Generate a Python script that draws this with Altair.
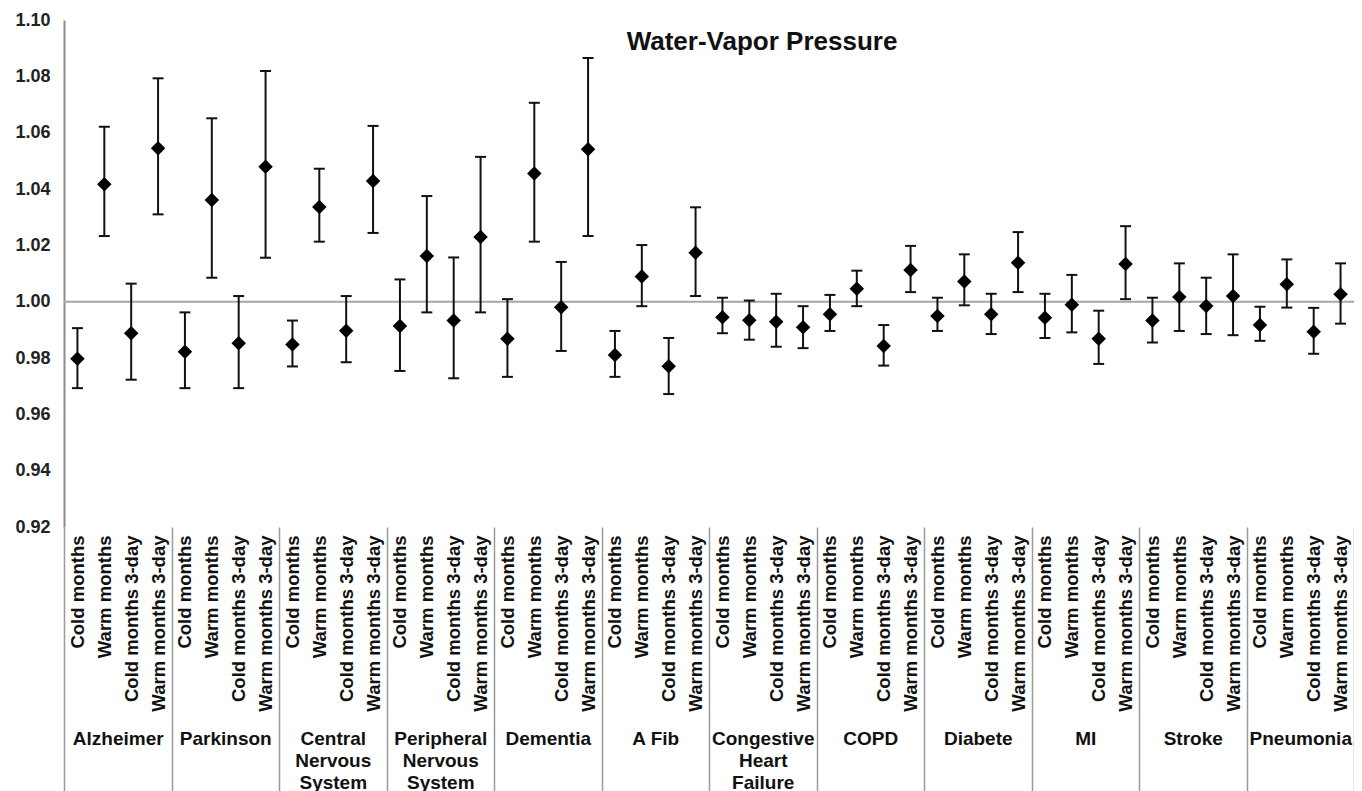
import json
import altair as alt
import pandas as pd

# ---- data ----
groups = ["Alzheimer", "Parkinson", "Central Nervous System", "Peripheral Nervous System",
          "Dementia", "A Fib", "Congestive Heart Failure", "COPD", "Diabete", "MI",
          "Stroke", "Pneumonia"]
group_lines = [["Alzheimer"], ["Parkinson"], ["Central", "Nervous", "System"],
               ["Peripheral", "Nervous", "System"], ["Dementia"], ["A Fib"],
               ["Congestive", "Heart", "Failure"], ["COPD"], ["Diabete"], ["MI"],
               ["Stroke"], ["Pneumonia"]]
periods = ["Cold months", "Warm months", "Cold months 3-day", "Warm months 3-day"]

estimate = [
    0.9797, 1.0417, 0.9888, 1.0545,   # Alzheimer
    0.9822, 1.0361, 0.9852, 1.0479,   # Parkinson
    0.9848, 1.0336, 0.9897, 1.0428,   # CNS
    0.9914, 1.0162, 0.9933, 1.0230,   # PNS
    0.9868, 1.0455, 0.9980, 1.0541,   # Dementia
    0.9811, 1.0089, 0.9771, 1.0174,   # A Fib
    0.9945, 0.9934, 0.9929, 0.9909,   # CHF
    0.9955, 1.0046, 0.9843, 1.0112,   # COPD
    0.9949, 1.0072, 0.9955, 1.0138,   # Diabete
    0.9943, 0.9989, 0.9868, 1.0134,   # MI
    0.9933, 1.0017, 0.9985, 1.0020,   # Stroke
    0.9917, 1.0062, 0.9893, 1.0026,   # Pneumonia
]
lower = [
    0.9693, 1.0233, 0.9723, 1.0310,
    0.9693, 1.0085, 0.9693, 1.0156,
    0.9770, 1.0213, 0.9785, 1.0244,
    0.9754, 0.9962, 0.9728, 0.9962,
    0.9733, 1.0213, 0.9825, 1.0233,
    0.9733, 0.9984, 0.9672, 1.0020,
    0.9888, 0.9865, 0.9840, 0.9835,
    0.9896, 0.9984, 0.9773, 1.0034,
    0.9896, 0.9987, 0.9885, 1.0034,
    0.9871, 0.9891, 0.9779, 1.0009,
    0.9855, 0.9896, 0.9885, 0.9881,
    0.9861, 0.9979, 0.9815, 0.9922,
]
upper = [
    0.9906, 1.0621, 1.0064, 1.0793,
    0.9962, 1.0651, 1.0020, 1.0819,
    0.9933, 1.0472, 1.0020, 1.0624,
    1.0079, 1.0375, 1.0157, 1.0514,
    1.0009, 1.0706, 1.0141, 1.0865,
    0.9896, 1.0201, 0.9871, 1.0335,
    1.0014, 1.0004, 1.0028, 0.9984,
    1.0024, 1.0110, 0.9917, 1.0198,
    1.0014, 1.0168, 1.0028, 1.0247,
    1.0028, 1.0095, 0.9968, 1.0268,
    1.0014, 1.0136, 1.0085, 1.0168,
    0.9982, 1.0150, 0.9978, 1.0136,
]
y_ticks = [0.92, 0.94, 0.96, 0.98, 1.00, 1.02, 1.04, 1.06, 1.08, 1.10]
reference_value = [1.0]
title_text = "Water-Vapor Pressure"

# ---- table ----
n_per = len(periods)
rows = []
for i, (e, lo, hi) in enumerate(zip(estimate, lower, upper)):
    rows.append({"pos": i + 0.5, "group": groups[i // n_per], "period": periods[i % n_per],
                 "est": e, "lo": lo, "hi": hi})
df = pd.DataFrame(rows)
ref_df = pd.DataFrame({"ref": reference_value})

FONT = "Liberation Sans, Arial, sans-serif"
n = len(estimate)
xscale = alt.Scale(domain=[0, n], nice=False, zero=False)
yscale = alt.Scale(domain=[min(y_ticks), max(y_ticks)], nice=False, zero=False)

y_axis = alt.Axis(values=y_ticks, format=".2f", labelFont=FONT, labelFontSize=18,
                  labelFontWeight="bold", labelColor="#222222", labelPadding=14,
                  ticks=False, tickSize=0, domainColor="#8c8c8c", domainWidth=2,
                  grid=False, title=None)

period_expr = f"{json.dumps(periods)}[floor(datum.value) % {n_per}]"
group_expr = f"{json.dumps(group_lines)}[floor(datum.value / {n_per})]"

cat_axis = alt.Axis(orient="bottom", values=[i + 0.5 for i in range(n)], labelExpr=period_expr,
                    labelAngle=270, labelAlign="right", labelBaseline="middle",
                    labelFont=FONT, labelFontSize=18.5, labelFontWeight="bold",
                    labelColor="#111111", labelPadding=8, ticks=False, tickSize=0,
                    domain=False, grid=False, labelOverlap=False, labelLimit=0,
                    labelFlush=False, title=None)
group_axis = alt.Axis(orient="bottom", values=[n_per * k + n_per / 2 for k in range(len(groups))],
                      labelExpr=group_expr, labelAngle=0, labelAlign="center",
                      labelBaseline="top", labelFont=FONT, labelFontSize=19,
                      labelFontWeight="bold",
                      labelColor="#111111", labelPadding=202, labelLineHeight=22,
                      ticks=False, tickSize=0, domain=False, grid=False,
                      labelOverlap=False, labelLimit=0, labelFlush=False, title=None)
sep_axis = alt.Axis(orient="bottom", values=[n_per * k for k in range(len(groups) + 1)],
                    labels=False, ticks=True, tickSize=264, tickColor="#9a9a9a",
                    tickWidth=1.5, domain=False, grid=False, title=None)

ref = alt.Chart(ref_df).mark_rule(color="#a6a6a6", strokeWidth=2).encode(
    y=alt.Y("ref:Q", scale=yscale, axis=y_axis, title=None)
)

base = alt.Chart(df)
bars = base.mark_rule(color="#111111", strokeWidth=2).encode(
    x=alt.X("pos:Q", scale=xscale, axis=cat_axis, title=None),
    y=alt.Y("lo:Q", scale=yscale, axis=y_axis, title=None),
    y2="hi:Q",
)
caps = base.transform_fold(["lo", "hi"], as_=["end", "val"]).mark_tick(
    orient="horizontal", size=11, thickness=2, color="#111111", opacity=1
).encode(
    x=alt.X("pos:Q", scale=xscale, axis=group_axis, title=None),
    y=alt.Y("val:Q", scale=yscale, axis=y_axis, title=None),
)
points = base.mark_point(shape="diamond", filled=True, size=210, color="#000000", opacity=1).encode(
    x=alt.X("pos:Q", scale=xscale, axis=sep_axis, title=None),
    y=alt.Y("est:Q", scale=yscale, axis=y_axis, title=None),
)

chart = alt.layer(ref, bars, caps, points).resolve_scale(x="shared").resolve_axis(
    x="independent"
).properties(
    width=1290,
    height=507,
    padding={"left": 56, "top": 12, "right": 0, "bottom": 272},
    autosize=alt.AutoSizeParams(type="none"),
    title=alt.TitleParams(title_text, font=FONT, fontSize=26, fontWeight="bold",
                          color="#111111", anchor="middle", frame="group", offset=0,
                          dx=53, dy=65, baseline="alphabetic"),
    background="white",
).configure_view(stroke=None)

chart.save("out.html", embed_options={"renderer": "svg", "actions": False})
